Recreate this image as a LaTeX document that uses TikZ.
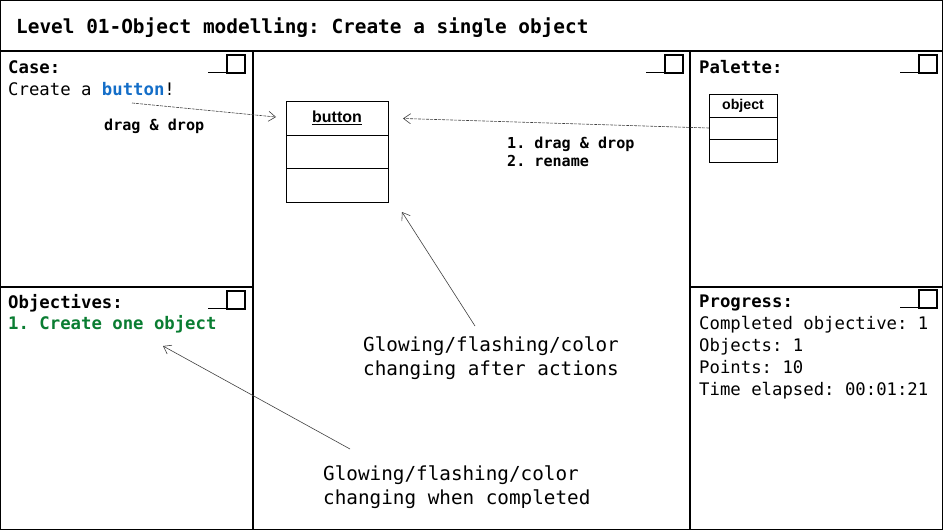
\documentclass[tikz,border=0pt]{standalone}
\usepackage{fontspec}
\setmonofont{DejaVu Sans Mono}
\setsansfont{Liberation Sans}
\usepackage{xcolor}
\usetikzlibrary{positioning, arrows.meta}

\definecolor{btnblue}{RGB}{20,110,200}
\definecolor{goalgreen}{RGB}{10,125,50}
\newcommand{\titlefont}{\ttfamily\bfseries\fontsize{19.4}{24}\selectfont}
\newcommand{\bodyfont}{\ttfamily\fontsize{17.3}{22}\selectfont}
\newcommand{\hintfont}{\ttfamily\bfseries\fontsize{15.1}{18.5}\selectfont}
\newcommand{\notefont}{\ttfamily\fontsize{19.3}{24.5}\selectfont}

\tikzset{
  panel/.style={line width=1.2pt},
  txt/.style={anchor=west, inner sep=0pt, align=left},
  umlcell/.style={draw, line width=0.9pt, outer sep=0pt, inner sep=0pt},
  barb/.style={-{Straight Barb[length=7pt, width=10pt, line width=0.6pt]}},
  dragline/.style={barb, black!75, line width=0.6pt, dash pattern=on 3pt off 1pt},
  noteline/.style={barb, black!75, line width=0.6pt}
}

\begin{document}
\begin{tikzpicture}[x=1pt, y=-1pt]
  \useasboundingbox (0,0) rectangle (943,530);
  % frame and panels
  \draw[panel] (0.6,0.6) rectangle (942.4,529.4);
  \draw[panel] (0,51) -- (943,51);
  \draw[panel] (253,51) -- (253,530);
  \draw[panel] (690,51) -- (690,530);
  \draw[panel] (0,287) -- (253,287);
  \draw[panel] (690,287) -- (943,287);
  % minimise / maximise buttons
  \foreach \bx/\by in {245/55, 683/55, 937/55, 245/291, 937/290} {
    \draw[line width=1.2pt] (\bx-18,\by) rectangle (\bx,\by+18);
    \draw[line width=1.4pt] (\bx-37,\by+17.3) -- (\bx-19,\by+17.3);
  }

  \node (title) [txt, font=\titlefont] at (16,28) {Level 01-Object modelling: Create a single object};

  % case panel
  \node (case) [txt, font=\bodyfont\bfseries] at (8,67) {Case:};
  \node (task) [txt, font=\bodyfont] at (8,89) {Create a \textcolor{btnblue}{\bfseries button}!};
  \node (dragA) [txt, font=\hintfont] at (104,126) {drag \& drop};

  % canvas
  \node (btn) [umlcell, minimum width=102pt, minimum height=34pt,
    font=\sffamily\bfseries\fontsize{16}{18}\selectfont] at (337,118) {\underline{button}};
  \node (btn1) [umlcell, minimum width=102pt, minimum height=33pt, below=0pt of btn] {};
  \node (btn2) [umlcell, minimum width=102pt, minimum height=34pt, below=0pt of btn1] {};
  \node (steps) [txt, font=\hintfont] at (507,152) {1. drag \& drop\\2. rename};

  % palette panel
  \node (palette) [txt, font=\bodyfont\bfseries] at (699,67) {Palette:};
  \node (obj) [umlcell, minimum width=68pt, minimum height=23pt,
    font=\sffamily\bfseries\fontsize{14.2}{16}\selectfont] at (743,105.5) {object};
  \node (obj1) [umlcell, minimum width=68pt, minimum height=22pt, below=0pt of obj] {};
  \node (obj2) [umlcell, minimum width=68pt, minimum height=23pt, below=0pt of obj1] {};

  % objectives panel
  \node (objectives) [txt, font=\bodyfont\bfseries] at (8,303.5) {Objectives:};
  \node (goal) [txt, font=\bodyfont\bfseries, text=goalgreen] at (8,324.5) {1. Create one object};

  % progress panel
  \node (progress) [txt, font=\bodyfont\bfseries] at (699,302.5) {Progress:};
  \node (stats) [txt, font=\bodyfont] at (699,357.5)
    {Completed objective: 1\\Objects: 1\\Points: 10\\Time elapsed: 00:01:21};

  % notes
  \node (glowA) [txt, font=\notefont] at (363,358) {Glowing/flashing/color\\changing after actions};
  \node (glowB) [txt, font=\notefont] at (323,487) {Glowing/flashing/color\\changing when completed};

  % connectors
  \coordinate (caseTail) at (132,103);
  \coordinate (actTail) at (475,326);
  \coordinate (actHit) at (402,212);
  \coordinate (doneTail) at (350,449);
  \coordinate (goalHit) at (163,346);
  \draw[dragline, shorten >=10pt] (caseTail) -- (btn.west);
  \draw[dragline, shorten >=15pt] (obj1.west) -- (btn.east);
  \draw[noteline] (actTail) -- (actHit);
  \draw[noteline] (doneTail) -- (goalHit);
\end{tikzpicture}
\end{document}
